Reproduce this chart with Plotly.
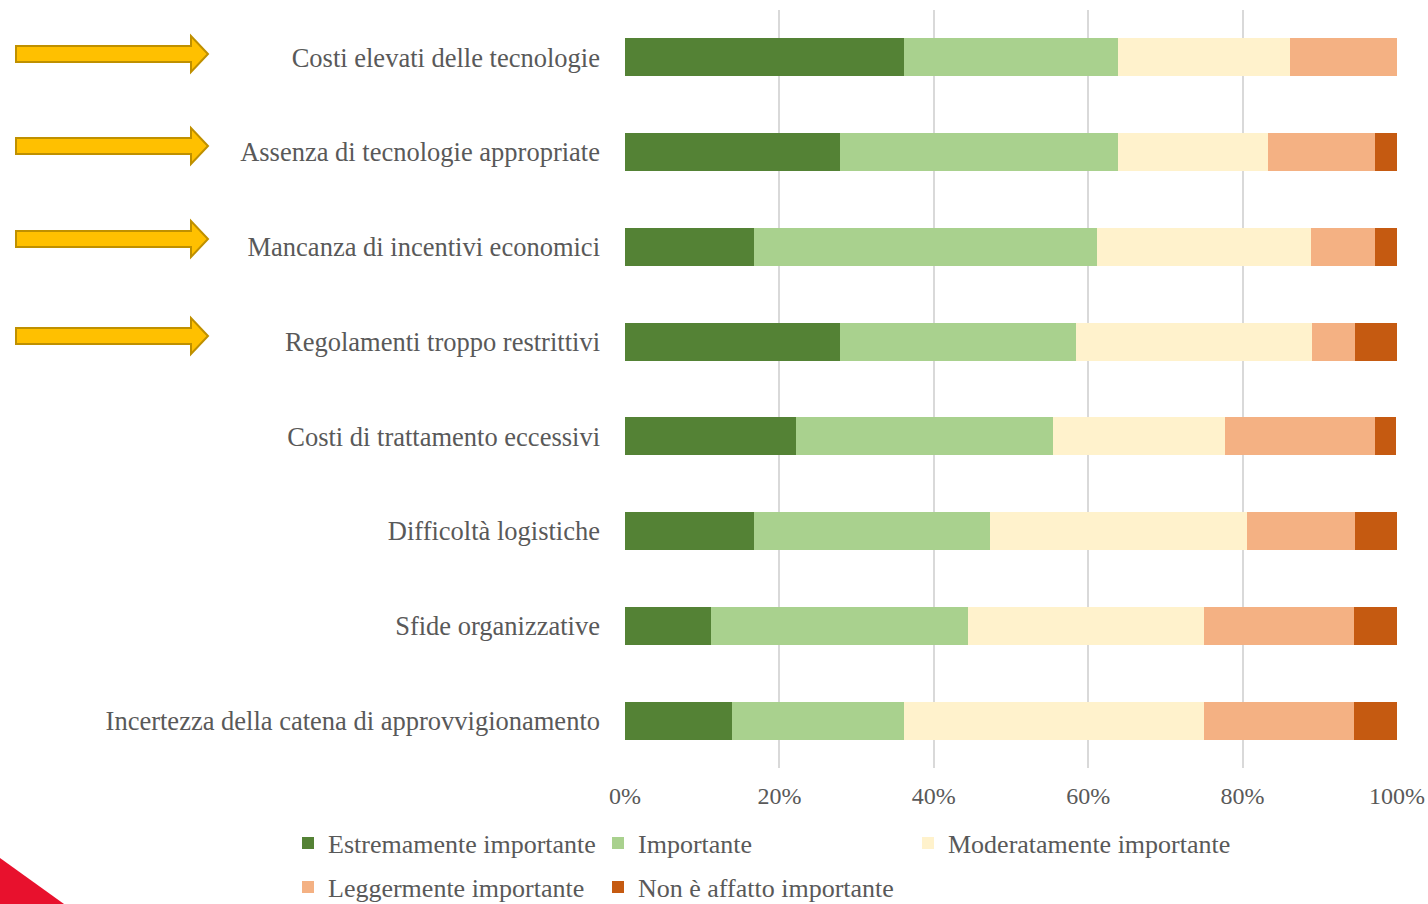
import plotly.graph_objects as go

categories = [
    "Costi elevati delle tecnologie",
    "Assenza di tecnologie appropriate",
    "Mancanza di incentivi economici",
    "Regolamenti troppo restrittivi",
    "Costi di trattamento eccessivi",
    "Difficoltà logistiche",
    "Sfide organizzative",
    "Incertezza della catena di approvvigionamento",
]
series_names = [
    "Estremamente importante",
    "Importante",
    "Moderatamente importante",
    "Leggermente importante",
    "Non è affatto importante",
]
estremamente = [36.1, 27.8, 16.7, 27.8, 22.2, 16.7, 11.1, 13.9]
importante = [27.8, 36.1, 44.4, 30.6, 33.3, 30.6, 33.3, 22.2]
moderatamente = [22.2, 19.4, 27.8, 30.6, 22.2, 33.3, 30.6, 38.9]
leggermente = [13.9, 13.9, 8.3, 5.6, 19.4, 13.9, 19.4, 19.4]
non_affatto = [0.0, 2.8, 2.8, 5.6, 2.8, 5.6, 5.6, 5.6]
colors = ["#548235", "#A9D18E", "#FFF2CC", "#F4B183", "#C55A11"]
legend_slots = ["legend", "legend", "legend3", "legend2", "legend2"]
xtick_vals = [0, 20, 40, 60, 80, 100]
xtick_text = ["0%", "20%", "40%", "60%", "80%", "100%"]
arrow_rows = 4

W, H = 1428, 904
ML, MR, MT, MB = 625, 31, 10, 136
PW, PH = W - ML - MR, H - MT - MB

def px(x):
    return (x - ML) / PW

def py(y):
    return (H - MB - y) / PH

FONT = "Liberation Serif, Times New Roman, serif"
TXT = "#595959"

fig = go.Figure()
for name, vals, col, lg in zip(series_names,
                               [estremamente, importante, moderatamente, leggermente, non_affatto],
                               colors, legend_slots):
    fig.add_trace(go.Bar(
        y=categories, x=vals, name=name, orientation="h", legend=lg,
        marker=dict(color=col, line=dict(width=0)),
    ))

shapes = []
arrow_centers = [54, 146, 239, 336]
for cy in arrow_centers[:arrow_rows]:
    pts = [(16, cy - 8), (191, cy - 8), (191, cy - 18), (208, cy), (191, cy + 18),
           (191, cy + 8), (16, cy + 8)]
    path = "M" + " L".join(f"{px(a):.5f},{py(b):.5f}" for a, b in pts) + " Z"
    shapes.append(dict(type="path", xref="paper", yref="paper", path=path,
                       fillcolor="#FFC000", line=dict(color="#BF9000", width=2)))
tri = [(0, 858), (64, 904), (0, 904)]
shapes.append(dict(type="path", xref="paper", yref="paper",
                   path="M" + " L".join(f"{px(a):.5f},{py(b):.5f}" for a, b in tri) + " Z",
                   fillcolor="#E8112D", line=dict(width=0)))

legend_common = dict(orientation="h", xanchor="left", yanchor="middle",
                     font=dict(size=26, color=TXT), entrywidthmode="pixels",
                     itemwidth=30, traceorder="normal", bgcolor="rgba(0,0,0,0)")

fig.update_layout(
    width=W, height=H,
    margin=dict(l=ML, r=MR, t=MT, b=MB, autoexpand=False),
    barmode="stack", bargap=0.6,
    plot_bgcolor="white", paper_bgcolor="white",
    font=dict(family=FONT, color=TXT, size=22),
    xaxis=dict(range=[0, 100], tickvals=xtick_vals, ticktext=xtick_text,
               showgrid=True, gridcolor="#D9D9D9", gridwidth=2,
               zeroline=False, showline=False, ticks="", automargin=False,
               ticklabelstandoff=11,
               tickfont=dict(size=24, color=TXT), fixedrange=True),
    yaxis=dict(categoryorder="array", categoryarray=categories, autorange="reversed",
               showgrid=False, zeroline=False, showline=False, ticks="",
               ticklabelstandoff=24, automargin=False,
               tickfont=dict(size=26.5, color=TXT)),
    legend=dict(x=px(288), y=py(843), entrywidth=265, **legend_common),
    legend3=dict(x=px(908), y=py(843), entrywidth=0, **legend_common),
    legend2=dict(x=px(288), y=py(887), entrywidth=265, **legend_common),
    shapes=shapes,
)

fig.write_html("out.html")
